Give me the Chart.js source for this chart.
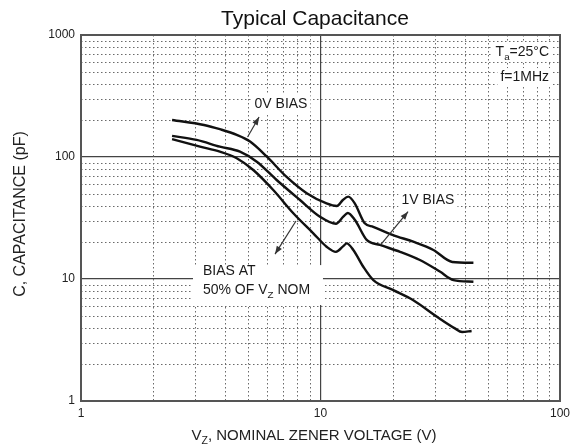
<!DOCTYPE html>
<html>
<head>
<meta charset="utf-8">
<script src="https://cdn.jsdelivr.net/npm/chart.js@4.4.1/dist/chart.umd.min.js"></script>
<style>
  html, body { margin: 0; padding: 0; background: #fff; }
</style>
</head>
<body>
<canvas id="capChart" width="571" height="448"></canvas>
<script>
// Typical capacitance vs nominal zener voltage

// 0V bias
const zeroBiasV = [2.4, 3.26, 3.8, 4.47, 5.08, 5.96, 7.2, 8.76, 10.6, 11.7, 12.4, 13.05, 13.9, 15.3, 16.6, 20.1, 24.4, 29.6, 35.5, 43.5];
const zeroBiasC = [201, 183, 169, 152, 134, 101, 69, 50.5, 41.7, 39.7, 44.4, 47.3, 41.7, 28.6, 26.8, 22.9, 20.2, 17.3, 13.8, 13.6];

// 1V bias
const oneBiasV = [2.4, 3.04, 3.8, 4.61, 5.42, 6.56, 8.21, 9.95, 11.6, 12.45, 13.0, 13.93, 15.59, 17.72, 21.5, 26.0, 31.5, 35.9, 43.5];
const oneBiasC = [149, 138, 121.5, 110.5, 91.5, 64.8, 44.4, 32.4, 28.4, 32.4, 34.8, 30.4, 20.9, 19.0, 16.7, 14.3, 11.5, 9.8, 9.5];

// bias at 50% of Vz nom
const halfBiasV = [2.4, 3.14, 3.8, 4.47, 5.24, 6.35, 7.7, 9.33, 10.6, 11.6, 12.45, 12.87, 13.71, 15.09, 16.62, 20.14, 24.4, 30.65, 36.4, 39.0, 42.75];
const halfBiasC = [140, 121.5, 110.5, 97.6, 78.2, 53.6, 34.6, 23.7, 18.4, 16.7, 18.6, 19.6, 17.3, 12.6, 9.8, 8.1, 6.7, 4.9, 3.94, 3.68, 3.75];

const xTicks = [1, 10, 100];
const yTicks = [1, 10, 100, 1000];

const FONT = '"Liberation Sans", Arial, Helvetica, sans-serif';

// annotations, placed in data units
const notes = [
  { x: 6.84, y: 272, align: 'center', parts: [{ t: '0V BIAS' }] },
  { x: 28.1, y: 44.4, align: 'center', parts: [{ t: '1V BIAS' }] },
  { x: 90, y: 725, align: 'right', parts: [{ t: 'T' }, { t: 'a', sub: true }, { t: '=25°C' }] },
  { x: 90, y: 452, align: 'right', parts: [{ t: 'f=1MHz' }] },
  { x: 3.23, y: 11.6, align: 'left', bare: true, parts: [{ t: 'BIAS AT' }] },
  { x: 3.23, y: 8.1, align: 'left', bare: true, parts: [{ t: '50% OF V' }, { t: 'Z', sub: true }, { t: ' NOM' }] }
];
const blankBox = { x0: 2.935, x1: 10.24, y0: 6.12, y1: 13.0 };
const arrows = [
  { from: [4.96, 145.8], to: [5.54, 212.8] },
  { from: [17.82, 19.0], to: [23.2, 35.6] },
  { from: [7.9, 29.9], to: [6.46, 16.0] }
];

const toPoints = (xs, ys) => xs.map((x, i) => ({ x: x, y: ys[i] }));

function richWidth(ctx, parts, size) {
  let w = 0;
  parts.forEach(p => {
    ctx.font = (p.sub ? size * 0.7 : size) + 'px ' + FONT;
    w += ctx.measureText(p.t).width;
  });
  return w;
}

function drawRich(ctx, parts, x, y, size, align) {
  const w = richWidth(ctx, parts, size);
  let cx = align === 'center' ? x - w / 2 : align === 'right' ? x - w : x;
  ctx.textAlign = 'left';
  ctx.textBaseline = 'middle';
  parts.forEach(p => {
    const s = p.sub ? size * 0.7 : size;
    ctx.font = s + 'px ' + FONT;
    ctx.fillText(p.t, cx, p.sub ? y + size * 0.35 : y);
    cx += ctx.measureText(p.t).width;
  });
  return w;
}

const decor = {
  id: 'decor',
  beforeDatasetsDraw(chart) {
    const { ctx, chartArea: a, scales: { x, y } } = chart;
    ctx.save();
    // dotted minor grid
    ctx.strokeStyle = '#6a6a6a';
    ctx.lineWidth = 1;
    ctx.setLineDash([1.5, 2.5]);
    for (let d = 1; d < 100; d *= 10) {
      for (let k = 2; k <= 9; k++) {
        const px = Math.round(x.getPixelForValue(d * k)) + 0.5;
        ctx.beginPath(); ctx.moveTo(px, a.top); ctx.lineTo(px, a.bottom); ctx.stroke();
      }
    }
    for (let d = 1; d < 1000; d *= 10) {
      for (let k = 2; k <= 9; k++) {
        const py = Math.round(y.getPixelForValue(d * k)) + 0.5;
        ctx.beginPath(); ctx.moveTo(a.left, py); ctx.lineTo(a.right, py); ctx.stroke();
      }
    }
    ctx.setLineDash([]);
    // white patches behind labels
    ctx.fillStyle = '#fff';
    const bx0 = x.getPixelForValue(blankBox.x0), bx1 = x.getPixelForValue(blankBox.x1);
    const by0 = y.getPixelForValue(blankBox.y1), by1 = y.getPixelForValue(blankBox.y0);
    ctx.fillRect(bx0, by0, bx1 - bx0, by1 - by0);
    notes.forEach(n => {
      if (n.bare) return;
      const w = richWidth(ctx, n.parts, 14);
      const px = x.getPixelForValue(n.x), py = y.getPixelForValue(n.y);
      const left = n.align === 'center' ? px - w / 2 : n.align === 'right' ? px - w : px;
      ctx.fillRect(left - 3, py - 9, w + 6, 19);
    });
    ctx.restore();
  },
  afterDatasetsDraw(chart) {
    const { ctx, chartArea: a, scales: { x, y } } = chart;
    ctx.save();
    // frame
    ctx.strokeStyle = '#555';
    ctx.lineWidth = 2;
    ctx.strokeRect(a.left, a.top, a.right - a.left, a.bottom - a.top);
    // arrows
    ctx.strokeStyle = '#333';
    ctx.fillStyle = '#333';
    ctx.lineWidth = 1.2;
    arrows.forEach(ar => {
      const x0 = x.getPixelForValue(ar.from[0]), y0 = y.getPixelForValue(ar.from[1]);
      const x1 = x.getPixelForValue(ar.to[0]), y1 = y.getPixelForValue(ar.to[1]);
      const ang = Math.atan2(y1 - y0, x1 - x0);
      ctx.beginPath(); ctx.moveTo(x0, y0); ctx.lineTo(x1, y1); ctx.stroke();
      ctx.beginPath();
      ctx.moveTo(x1, y1);
      ctx.lineTo(x1 - 8 * Math.cos(ang) + 3 * Math.sin(ang), y1 - 8 * Math.sin(ang) - 3 * Math.cos(ang));
      ctx.lineTo(x1 - 8 * Math.cos(ang) - 3 * Math.sin(ang), y1 - 8 * Math.sin(ang) + 3 * Math.cos(ang));
      ctx.closePath(); ctx.fill();
    });
    // notes
    ctx.fillStyle = '#1a1a1a';
    notes.forEach(n => {
      drawRich(ctx, n.parts, x.getPixelForValue(n.x), y.getPixelForValue(n.y), 14, n.align);
    });
    // titles
    ctx.fillStyle = '#111';
    ctx.textAlign = 'center';
    ctx.textBaseline = 'middle';
    ctx.font = '21px ' + FONT;
    ctx.fillText('Typical Capacitance', 315, 19);
    ctx.fillStyle = '#222';
    drawRich(ctx, [{ t: 'V' }, { t: 'Z', sub: true }, { t: ', NOMINAL ZENER VOLTAGE (V)' }], 314, 436, 15, 'center');
    ctx.translate(21, 214);
    ctx.rotate(-Math.PI / 2);
    drawRich(ctx, [{ t: 'C, CAPACITANCE (pF)' }], 0, 0, 16, 'center');
    ctx.restore();
  }
};

const lineStyle = {
  borderColor: '#111',
  borderWidth: 2.4,
  pointRadius: 0,
  fill: false,
  tension: 0.4,
  cubicInterpolationMode: 'monotone'
};

const ctx = document.getElementById('capChart').getContext('2d');
const capChart = new Chart(ctx, {
  type: 'line',
  data: {
    datasets: [
      Object.assign({ label: '0V BIAS', data: toPoints(zeroBiasV, zeroBiasC) }, lineStyle),
      Object.assign({ label: '1V BIAS', data: toPoints(oneBiasV, oneBiasC) }, lineStyle),
      Object.assign({ label: 'BIAS AT 50% OF VZ NOM', data: toPoints(halfBiasV, halfBiasC) }, lineStyle)
    ]
  },
  options: {
    responsive: false,
    animation: false,
    layout: { padding: { top: 35, right: 11, bottom: 0, left: 0 } },
    plugins: { legend: { display: false }, tooltip: { enabled: false } },
    scales: {
      x: {
        type: 'logarithmic',
        min: 1,
        max: 100,
        afterBuildTicks: s => { s.ticks = xTicks.map(v => ({ value: v })); },
        afterFit: s => { s.height = 47; s.paddingRight = 0; s.paddingLeft = 0; },
        ticks: {
          padding: 5,
          maxRotation: 0,
          autoSkip: false,
          color: '#222',
          font: { family: FONT, size: 12 },
          callback: v => String(v)
        },
        grid: { color: '#444', lineWidth: 1.2, drawTicks: false },
        border: { display: false }
      },
      y: {
        type: 'logarithmic',
        min: 1,
        max: 1000,
        afterBuildTicks: s => { s.ticks = yTicks.map(v => ({ value: v })); },
        afterFit: s => { s.width = 81; },
        ticks: {
          padding: 6,
          autoSkip: false,
          color: '#222',
          font: { family: FONT, size: 12 },
          callback: v => String(v)
        },
        grid: { color: '#444', lineWidth: 1.2, drawTicks: false },
        border: { display: false }
      }
    }
  },
  plugins: [decor]
});
</script>
</body>
</html>
